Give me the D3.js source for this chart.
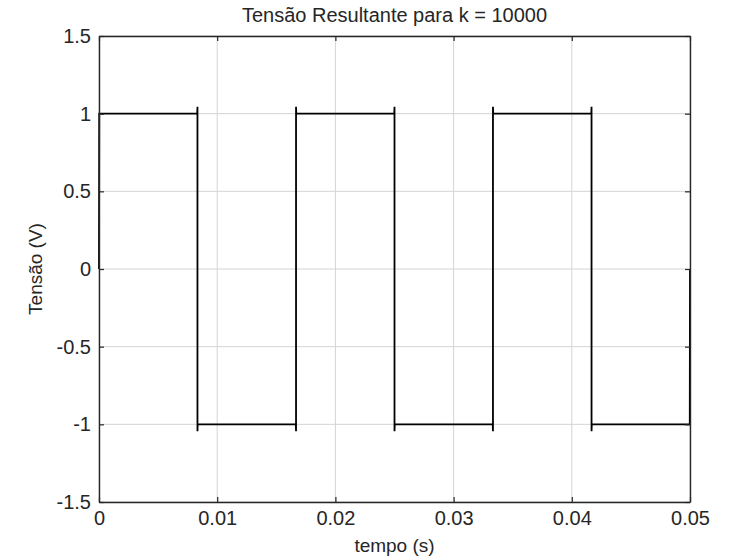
<!DOCTYPE html>
<html>
<head>
<meta charset="utf-8">
<script src="https://cdn.jsdelivr.net/npm/d3@7"></script>
<style>
  body { margin: 0; background: #fff; }
  text { font-family: "Liberation Sans", Arial, sans-serif; fill: #262626; }
</style>
</head>
<body>
<script>
// square wave (Fourier sum, k = 10000)
var tempo = [0, 0.00002, 0.00831, 0.00833, 0.00833, 0.00835,
             0.01665, 0.01667, 0.01667, 0.01669,
             0.02498, 0.02500, 0.02500, 0.02502,
             0.03331, 0.03333, 0.03333, 0.03335,
             0.04165, 0.04167, 0.04167, 0.04169,
             0.04998, 0.05];
var tensao = [0, 1, 1, 1.045, -1.045, -1,
              -1, -1.045, 1.045, 1,
              1, 1.045, -1.045, -1,
              -1, -1.045, 1.045, 1,
              1, 1.045, -1.045, -1,
              -1, 0];

var xTicks = [0, 0.01, 0.02, 0.03, 0.04, 0.05];
var xTickLabels = ["0", "0.01", "0.02", "0.03", "0.04", "0.05"];
var yTicks = [-1.5, -1, -0.5, 0, 0.5, 1, 1.5];
var yTickLabels = ["-1.5", "-1", "-0.5", "0", "0.5", "1", "1.5"];

var W = 735, H = 560;
var plotL = 99, plotT = 36, plotR = 690, plotB = 502;

var svg = d3.select("body").append("svg")
  .attr("width", W)
  .attr("height", H);

var x = d3.scaleLinear().domain([0, 0.05]).range([plotL, plotR]);
var y = d3.scaleLinear().domain([-1.5, 1.5]).range([plotB, plotT]);

// grid
var grid = svg.append("g");
xTicks.forEach(function(t) {
  grid.append("line")
    .attr("x1", x(t)).attr("x2", x(t))
    .attr("y1", plotT).attr("y2", plotB)
    .attr("stroke", "#d4d4d4").attr("stroke-width", 1);
});
yTicks.forEach(function(t) {
  grid.append("line")
    .attr("x1", plotL).attr("x2", plotR)
    .attr("y1", y(t)).attr("y2", y(t))
    .attr("stroke", "#d4d4d4").attr("stroke-width", 1);
});

// the waveform
var pts = tempo.map(function(t, i) { return [t, tensao[i]]; });
var line = d3.line()
  .x(function(d) { return x(d[0]); })
  .y(function(d) { return y(d[1]); });

svg.append("path")
  .datum(pts)
  .attr("d", line)
  .attr("fill", "none")
  .attr("stroke", "#000")
  .attr("stroke-width", 1.8);

// axes, MATLAB style: ticks inward on all 4 sides
var tickLen = 5;
var axBottom = d3.axisBottom(x).tickValues(xTicks)
  .tickFormat(function(d, i) { return xTickLabels[i]; })
  .tickSizeInner(-tickLen).tickSizeOuter(0).tickPadding(9);
var axTop = d3.axisTop(x).tickValues(xTicks).tickFormat("")
  .tickSizeInner(-tickLen).tickSizeOuter(0);
var axLeft = d3.axisLeft(y).tickValues(yTicks)
  .tickFormat(function(d, i) { return yTickLabels[i]; })
  .tickSizeInner(-tickLen).tickSizeOuter(0).tickPadding(8);
var axRight = d3.axisRight(y).tickValues(yTicks).tickFormat("")
  .tickSizeInner(-tickLen).tickSizeOuter(0);

function styleAxis(g) {
  g.select(".domain").attr("stroke", "#262626").attr("stroke-width", 1.4);
  g.selectAll(".tick line").attr("stroke", "#262626").attr("stroke-width", 1.2);
  g.selectAll(".tick text")
    .attr("fill", "#262626")
    .style("font-family", "'Liberation Sans', Arial, sans-serif")
    .style("font-size", "20px");
}

svg.append("g").attr("transform", "translate(0," + plotB + ")").call(axBottom).call(styleAxis);
svg.append("g").attr("transform", "translate(0," + plotT + ")").call(axTop).call(styleAxis);
svg.append("g").attr("transform", "translate(" + plotL + ",0)").call(axLeft).call(styleAxis);
svg.append("g").attr("transform", "translate(" + plotR + ",0)").call(axRight).call(styleAxis);

// labels
svg.append("text")
  .attr("x", (plotL + plotR) / 2)
  .attr("y", 22)
  .attr("text-anchor", "middle")
  .style("font-size", "20px")
  .text("Tensão Resultante para k = 10000");

svg.append("text")
  .attr("x", (plotL + plotR) / 2)
  .attr("y", 552)
  .attr("text-anchor", "middle")
  .style("font-size", "19px")
  .text("tempo (s)");

svg.append("text")
  .attr("transform", "translate(42," + ((plotT + plotB) / 2) + ") rotate(-90)")
  .attr("text-anchor", "middle")
  .style("font-size", "19px")
  .text("Tensão (V)");
</script>
</body>
</html>
